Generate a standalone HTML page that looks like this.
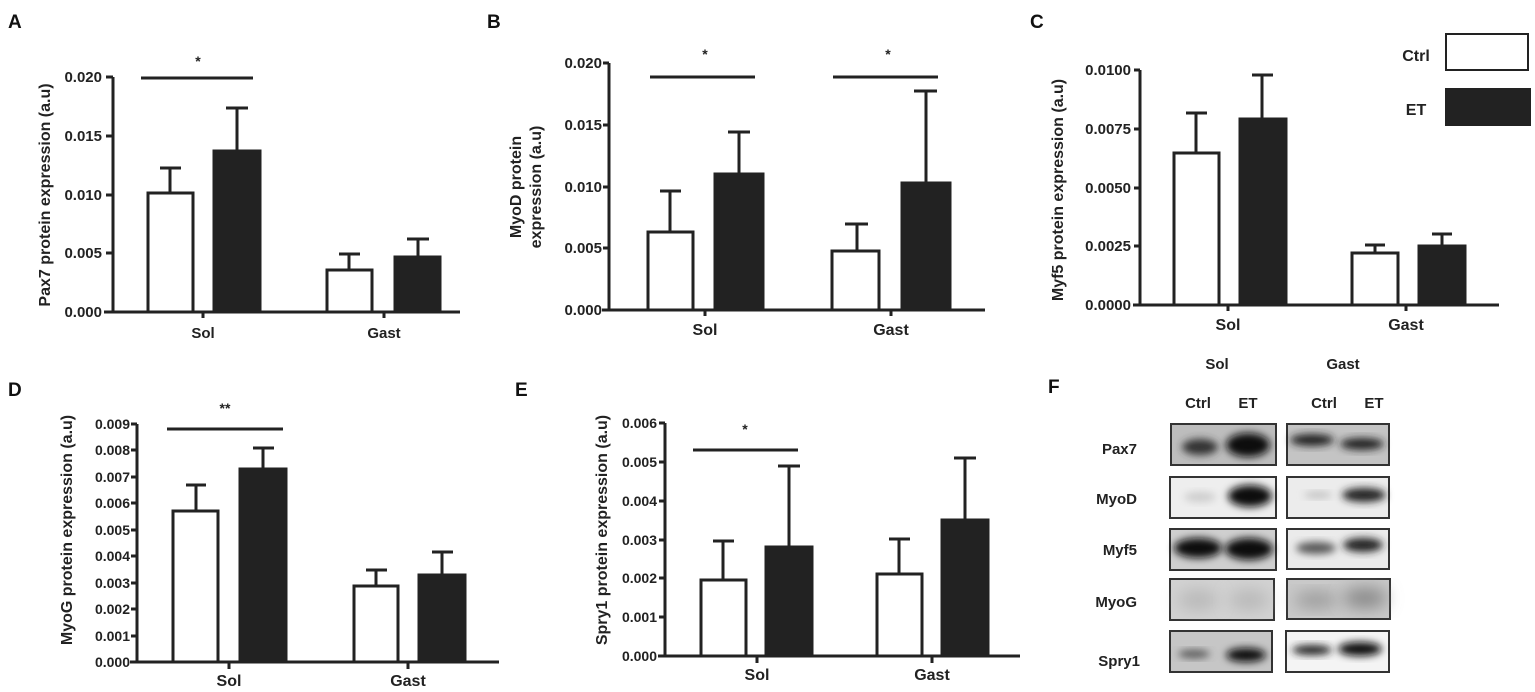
<!DOCTYPE html>
<html><head><meta charset="utf-8"><style>
html,body{margin:0;padding:0;background:#fff;}
svg{display:block;font-family:"Liberation Sans",sans-serif;font-weight:bold;}
</style></head><body>
<svg width="1535" height="692" viewBox="0 0 1535 692" xmlns="http://www.w3.org/2000/svg">
<defs>
<filter id="b1" x="-50%" y="-50%" width="200%" height="200%"><feGaussianBlur stdDeviation="4"/></filter>
<filter id="b2" x="-50%" y="-50%" width="200%" height="200%"><feGaussianBlur stdDeviation="8"/></filter>
</defs>
<g fill="#222" stroke="#222">
<g stroke="none" font-size="19" fill="#111">
<text x="8" y="28">A</text><text x="487" y="28">B</text><text x="1030" y="28">C</text>
<text x="8" y="396">D</text><text x="515" y="396">E</text><text x="1048" y="393">F</text>
</g>

<!-- Panel A -->
<g stroke-width="3" fill="none">
<path d="M113 77 V312 M104 312 H460 M106 77 H113 M106 136 H113 M106 195 H113 M106 253 H113 M203 312 V318 M384 312 V318"/>
<path d="M141 78 H253"/>
<rect x="148" y="193" width="45" height="119" fill="#fff"/>
<path d="M170 193 V168 M160 168 H181"/>
<rect x="214" y="151" width="46" height="161" fill="#222"/>
<path d="M237 151 V108 M226 108 H248"/>
<rect x="327" y="270" width="45" height="42" fill="#fff"/>
<path d="M349 270 V254 M339 254 H360"/>
<rect x="395" y="257" width="45" height="55" fill="#222"/>
<path d="M418 257 V239 M407 239 H429"/>
</g>
<g stroke="none" font-size="15" text-anchor="end">
<text x="102" y="82">0.020</text><text x="102" y="141">0.015</text><text x="102" y="200">0.010</text><text x="102" y="258">0.005</text><text x="102" y="317">0.000</text>
</g>
<g stroke="none" font-size="15" text-anchor="middle">
<text x="203" y="338">Sol</text><text x="384" y="338">Gast</text><text x="198" y="66" font-size="14">*</text>
<text transform="translate(50,195) rotate(-90)" font-size="16">Pax7 protein expression (a.u)</text>
</g>

<!-- Panel B -->
<g stroke-width="3" fill="none">
<path d="M609 63 V310 M602 310 H985 M603 63 H609 M603 125 H609 M603 187 H609 M603 248 H609 M705 310 V316 M891 310 V316"/>
<path d="M650 77 H755 M833 77 H938"/>
<rect x="648" y="232" width="45" height="78" fill="#fff"/>
<path d="M670 232 V191 M660 191 H681"/>
<rect x="715" y="174" width="48" height="136" fill="#222"/>
<path d="M739 174 V132 M728 132 H750"/>
<rect x="832" y="251" width="47" height="59" fill="#fff"/>
<path d="M857 251 V224 M845 224 H868"/>
<rect x="902" y="183" width="48" height="127" fill="#222"/>
<path d="M926 183 V91 M914 91 H937"/>
</g>
<g stroke="none" font-size="15" text-anchor="end">
<text x="602" y="68">0.020</text><text x="602" y="130">0.015</text><text x="602" y="192">0.010</text><text x="602" y="253">0.005</text><text x="602" y="315">0.000</text>
</g>
<g stroke="none" font-size="16" text-anchor="middle">
<text x="705" y="335">Sol</text><text x="891" y="335">Gast</text>
<text x="705" y="59" font-size="14">*</text><text x="888" y="59" font-size="14">*</text>
<text transform="translate(521,187) rotate(-90)">MyoD protein</text>
<text transform="translate(541,187) rotate(-90)">expression (a.u)</text>
</g>

<!-- Panel C -->
<g stroke-width="3" fill="none">
<path d="M1140 70 V305 M1133 305 H1499 M1134 70 H1140 M1134 129 H1140 M1134 188 H1140 M1134 246 H1140 M1228 305 V311 M1406 305 V311"/>
<rect x="1174" y="153" width="45" height="152" fill="#fff"/>
<path d="M1196 153 V113 M1186 113 H1207"/>
<rect x="1240" y="119" width="46" height="186" fill="#222"/>
<path d="M1262 119 V75 M1252 75 H1273"/>
<rect x="1352" y="253" width="46" height="52" fill="#fff"/>
<path d="M1375 253 V245 M1365 245 H1385"/>
<rect x="1419" y="246" width="46" height="59" fill="#222"/>
<path d="M1442 246 V234 M1432 234 H1452"/>
<rect x="1446" y="34" width="82" height="36" fill="#fff" stroke-width="2"/>
<rect x="1446" y="89" width="84" height="36" fill="#222" stroke-width="2"/>
</g>
<g stroke="none" font-size="15" text-anchor="end">
<text x="1131" y="75">0.0100</text><text x="1131" y="134">0.0075</text><text x="1131" y="193">0.0050</text><text x="1131" y="251">0.0025</text><text x="1131" y="310">0.0000</text>
</g>
<g stroke="none" font-size="16" text-anchor="middle">
<text x="1228" y="330">Sol</text><text x="1406" y="330">Gast</text>
<text x="1416" y="61">Ctrl</text><text x="1416" y="115">ET</text>
<text transform="translate(1063,190) rotate(-90)">Myf5 protein expression (a.u)</text>
</g>

<!-- Panel D -->
<g stroke-width="3" fill="none">
<path d="M137 424 V662 M130 662 H499 M131 424 H137 M131 450 H137 M131 477 H137 M131 503 H137 M131 530 H137 M131 556 H137 M131 583 H137 M131 609 H137 M131 636 H137 M229 662 V669 M408 662 V669"/>
<path d="M167 429 H283"/>
<rect x="173" y="511" width="45" height="151" fill="#fff"/>
<path d="M196 511 V485 M186 485 H206"/>
<rect x="240" y="469" width="46" height="193" fill="#222"/>
<path d="M263 469 V448 M253 448 H274"/>
<rect x="354" y="586" width="44" height="76" fill="#fff"/>
<path d="M376 586 V570 M366 570 H387"/>
<rect x="419" y="575" width="46" height="87" fill="#222"/>
<path d="M442 575 V552 M432 552 H453"/>
</g>
<g stroke="none" font-size="14" text-anchor="end">
<text x="130" y="429">0.009</text><text x="130" y="455">0.008</text><text x="130" y="482">0.007</text><text x="130" y="508">0.006</text><text x="130" y="535">0.005</text><text x="130" y="561">0.004</text><text x="130" y="588">0.003</text><text x="130" y="614">0.002</text><text x="130" y="641">0.001</text><text x="130" y="667">0.000</text>
</g>
<g stroke="none" font-size="16" text-anchor="middle">
<text x="229" y="686">Sol</text><text x="408" y="686">Gast</text>
<text x="225" y="413" font-size="14">**</text>
<text transform="translate(72,530) rotate(-90)">MyoG protein expression (a.u)</text>
</g>

<!-- Panel E -->
<g stroke-width="3" fill="none">
<path d="M665 423 V656 M658 656 H1020 M659 423 H665 M659 462 H665 M659 501 H665 M659 540 H665 M659 578 H665 M659 617 H665 M757 656 V663 M932 656 V663"/>
<path d="M693 450 H798"/>
<rect x="701" y="580" width="45" height="76" fill="#fff"/>
<path d="M723 580 V541 M713 541 H734"/>
<rect x="766" y="547" width="46" height="109" fill="#222"/>
<path d="M789 547 V466 M778 466 H800"/>
<rect x="877" y="574" width="45" height="82" fill="#fff"/>
<path d="M899 574 V539 M889 539 H910"/>
<rect x="942" y="520" width="46" height="136" fill="#222"/>
<path d="M965 520 V458 M954 458 H976"/>
</g>
<g stroke="none" font-size="14" text-anchor="end">
<text x="657" y="428">0.006</text><text x="657" y="467">0.005</text><text x="657" y="506">0.004</text><text x="657" y="545">0.003</text><text x="657" y="583">0.002</text><text x="657" y="622">0.001</text><text x="657" y="661">0.000</text>
</g>
<g stroke="none" font-size="16" text-anchor="middle">
<text x="757" y="680">Sol</text><text x="932" y="680">Gast</text>
<text x="745" y="434" font-size="14">*</text>
<text transform="translate(607,530) rotate(-90)">Spry1 protein expression (a.u)</text>
</g>

<!-- Panel F -->
<g stroke="none" font-size="15" text-anchor="middle" fill="#222">
<text x="1217" y="369">Sol</text><text x="1343" y="369">Gast</text>
<text x="1198" y="408">Ctrl</text><text x="1248" y="408">ET</text><text x="1324" y="408">Ctrl</text><text x="1374" y="408">ET</text>
</g>
<g stroke="none" font-size="15" text-anchor="end" fill="#222">
<text x="1137" y="454">Pax7</text><text x="1137" y="504">MyoD</text><text x="1137" y="555">Myf5</text><text x="1137" y="607">MyoG</text><text x="1140" y="666">Spry1</text>
</g>
<g stroke="#333" stroke-width="2">
<rect x="1171" y="424" width="105" height="41" fill="#bdbdbd"/>
<rect x="1287" y="424" width="102" height="41" fill="#c4c4c4"/>
<rect x="1170" y="477" width="106" height="41" fill="#eeeeee"/>
<rect x="1287" y="477" width="102" height="41" fill="#ececec"/>
<rect x="1170" y="529" width="106" height="41" fill="#cfcfcf"/>
<rect x="1287" y="529" width="102" height="40" fill="#ebebeb"/>
<rect x="1170" y="579" width="104" height="41" fill="#d2d2d2"/>
<rect x="1287" y="579" width="103" height="40" fill="#c9c9c9"/>
<rect x="1170" y="631" width="102" height="41" fill="#c6c6c6"/>
<rect x="1286" y="631" width="103" height="41" fill="#f4f4f4"/>
</g>
<g stroke="none">
<ellipse cx="1200" cy="447" rx="18" ry="8" fill="#333" filter="url(#b1)"/>
<ellipse cx="1248" cy="445" rx="22" ry="12" fill="#111" filter="url(#b1)"/>
<ellipse cx="1312" cy="440" rx="22" ry="6" fill="#222" filter="url(#b1)"/>
<ellipse cx="1362" cy="444" rx="22" ry="6" fill="#222" filter="url(#b1)"/>
<ellipse cx="1200" cy="497" rx="16" ry="5" fill="#ccc" filter="url(#b1)"/>
<ellipse cx="1250" cy="496" rx="22" ry="11" fill="#111" filter="url(#b1)"/>
<ellipse cx="1318" cy="495" rx="14" ry="3" fill="#bbb" filter="url(#b1)"/>
<ellipse cx="1364" cy="495" rx="22" ry="7" fill="#222" filter="url(#b1)"/>
<ellipse cx="1198" cy="548" rx="24" ry="10" fill="#111" filter="url(#b1)"/>
<ellipse cx="1249" cy="549" rx="24" ry="11" fill="#111" filter="url(#b1)"/>
<ellipse cx="1316" cy="548" rx="20" ry="6" fill="#555" filter="url(#b1)"/>
<ellipse cx="1363" cy="545" rx="20" ry="7" fill="#222" filter="url(#b1)"/>
<ellipse cx="1198" cy="600" rx="20" ry="10" fill="#b8b8b8" filter="url(#b2)"/>
<ellipse cx="1249" cy="600" rx="20" ry="10" fill="#b8b8b8" filter="url(#b2)"/>
<ellipse cx="1316" cy="600" rx="22" ry="8" fill="#999" filter="url(#b2)"/>
<ellipse cx="1365" cy="598" rx="22" ry="10" fill="#888" filter="url(#b2)"/>
<ellipse cx="1194" cy="654" rx="16" ry="4" fill="#555" filter="url(#b1)"/>
<ellipse cx="1246" cy="655" rx="20" ry="7" fill="#111" filter="url(#b1)"/>
<ellipse cx="1312" cy="650" rx="20" ry="5" fill="#222" filter="url(#b1)"/>
<ellipse cx="1360" cy="649" rx="22" ry="7" fill="#111" filter="url(#b1)"/>
</g>
</g>
</svg>
</body></html>
